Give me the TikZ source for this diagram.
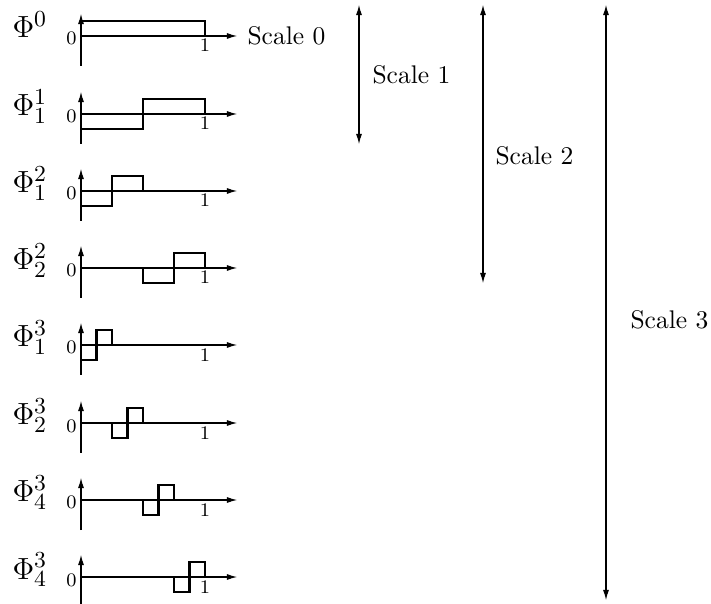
\documentclass[tikz,border=0pt]{standalone}
\usetikzlibrary{arrows.meta}
\begin{document}
\begin{tikzpicture}[x=0.392pt,y=-0.392pt,
  ax/.style={-{Latex[length=4pt,width=2.4pt]}, line width=0.4pt},
  dbl/.style={{Latex[length=4pt,width=2.4pt]}-{Latex[length=4pt,width=2.4pt]}, line width=0.4pt},
  sig/.style={line width=0.8pt, line join=miter},
  phi/.style={anchor=base west, inner sep=0pt, font=\fontsize{13}{15}\selectfont},
  small/.style={inner sep=0pt, font=\fontsize{7.5}{9}\selectfont},
  lbl/.style={anchor=west, inner sep=0pt, font=\normalsize}]
\useasboundingbox (0,0) rectangle (711,604);
\newcommand\hrow[4]{%
\begin{scope}[shift={(0,#2)}]
 \coordinate (#1o) at (81,0);
 \coordinate (#1x) at (237,0);
 \coordinate (#1b) at (81,30);
 \coordinate (#1t) at (81,-22);
 \draw[ax] (#1o) -- (#1x);
 \draw[ax] (#1b) -- (#1t);
 \node[phi] (#1l) at (12,2) {$#3$};
 \node[small, anchor=base east] (#1z) at (77,9) {0};
 \node[small, anchor=base] (#1u) at (205,16) {1};
 \draw[sig] #4;
\end{scope}}
\hrow{ra}{36}{\Phi^0}{(81,0)--(81,-15)--(205,-15)--(205,0)}
\hrow{rb}{114}{\Phi^1_1}{(81,0)--(81,15)--(143,15)--(143,-15)--(205,-15)--(205,0)}
\hrow{rc}{191}{\Phi^2_1}{(81,0)--(81,15)--(112,15)--(112,-15)--(143,-15)--(143,0)--(205,0)}
\hrow{rd}{268}{\Phi^2_2}{(81,0)--(143,0)--(143,15)--(174,15)--(174,-15)--(205,-15)--(205,0)}
\hrow{re}{345}{\Phi^3_1}{(81,0)--(81,15)--(96.5,15)--(96.5,-15)--(112,-15)--(112,0)--(205,0)}
\hrow{rf}{423}{\Phi^3_2}{(81,0)--(112,0)--(112,15)--(127.5,15)--(127.5,-15)--(143,-15)--(143,0)--(205,0)}
\hrow{rg}{500}{\Phi^3_4}{(81,0)--(143,0)--(143,15)--(158.5,15)--(158.5,-15)--(174,-15)--(174,0)--(205,0)}
\hrow{rh}{577}{\Phi^3_4}{(81,0)--(174,0)--(174,15)--(189.5,15)--(189.5,-15)--(205,-15)--(205,0)}
\node[lbl] (s0) at (247,36) {Scale 0};
\coordinate (s1t) at (359,5);
\coordinate (s1b) at (359,144);
\coordinate (s2t) at (483,5);
\coordinate (s2b) at (483,283);
\coordinate (s3t) at (606,5);
\coordinate (s3b) at (606,600);
\draw[dbl] (s1t) -- (s1b);
\draw[dbl] (s2t) -- (s2b);
\draw[dbl] (s3t) -- (s3b);
\node[lbl] (s1) at (372,75) {Scale 1};
\node[lbl] (s2) at (495,156) {Scale 2};
\node[lbl] (s3) at (630,320) {Scale 3};
\end{tikzpicture}
\end{document}
